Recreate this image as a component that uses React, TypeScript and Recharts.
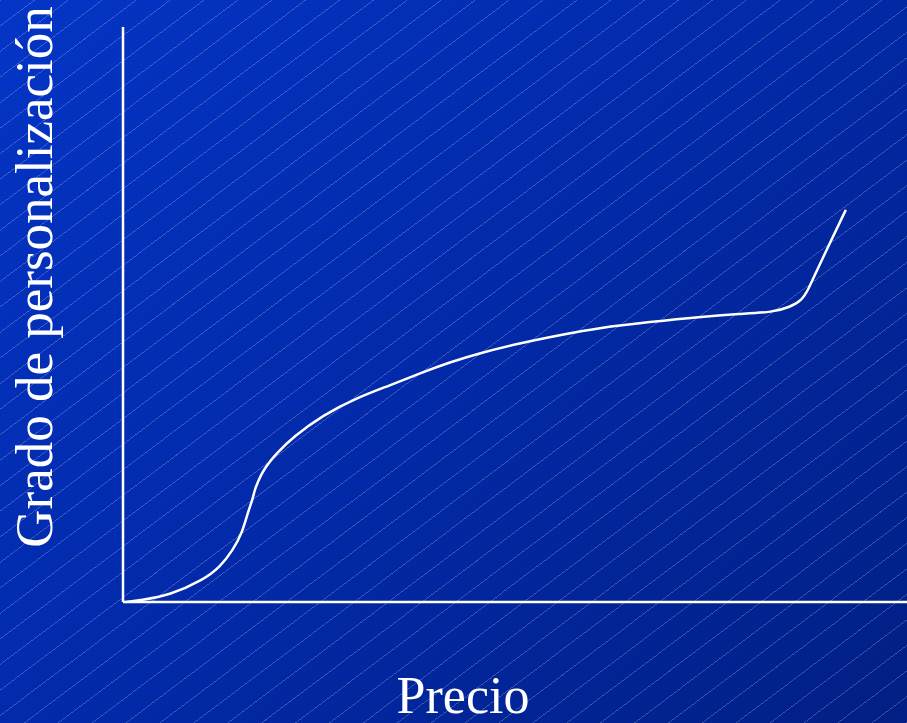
import { LineChart, Line, XAxis, YAxis, ReferenceLine } from 'recharts';

// curve: x = price, y = degree of personalization (0-100 scale)
const precio = [0.3, 2.2, 6.0, 10.2, 12.4, 14.0, 15.2, 15.9, 16.5, 16.8, 17.2, 17.9, 19.6, 21.7, 25.5, 29.8, 34.1, 37.9, 41.7, 45.5, 50.6, 55.7, 60.8, 67.2, 73.6, 78.7, 82.9, 85.1, 86.6, 87.4, 88.5, 92.2];
const grado = [0, 0.3, 1.2, 3.8, 6.1, 9.0, 12.0, 15.5, 17.7, 19.5, 20.9, 23.0, 25.9, 28.7, 32.5, 35.5, 37.7, 39.8, 41.7, 43.3, 45.0, 46.4, 47.7, 48.7, 49.6, 50.1, 50.4, 51.3, 52.5, 54.3, 57.7, 68.2];

const xLabel = 'Precio';
const yLabel = 'Grado de personalización';

const data = precio.map((x, i) => ({ x, y: grado[i] }));

const serif = '"Liberation Serif", "Times New Roman", serif';

export default function App() {
    return (
        <div
            style={{
                position: 'absolute',
                left: 0,
                top: 0,
                width: 907,
                height: 723,
                overflow: 'hidden',
                background:
                    'repeating-linear-gradient(143deg, rgba(255,255,255,0.22) 0px, rgba(255,255,255,0.22) 0.8px, transparent 0.8px, transparent 20.4px), linear-gradient(135deg, #0435C6 0%, #0229A8 50%, #011F84 100%)',
                fontFamily: serif,
            }}
        >
            <LineChart width={907} height={723} data={data} margin={{ top: 27, right: 0, bottom: 121, left: 123 }}>
                <XAxis dataKey="x" type="number" domain={[0, 100]} hide />
                <YAxis type="number" domain={[0, 100]} hide />
                <ReferenceLine y={0} stroke="#FFFFFF" strokeWidth={2.5} ifOverflow="visible" />
                <ReferenceLine x={0} stroke="#FFFFFF" strokeWidth={2.5} ifOverflow="visible" />
                <Line
                    dataKey="y"
                    type="basis"
                    stroke="#FFFFFF"
                    strokeWidth={2.5}
                    dot={false}
                    isAnimationActive={false}
                />
            </LineChart>
            <svg width={907} height={723} style={{ position: 'absolute', left: 0, top: 0, pointerEvents: 'none' }}>
                <text x={463} y={713} textAnchor="middle" fill="#FFFFFF" fontSize={52} fontFamily={serif}>
                    {xLabel}
                </text>
                <text x={52} y={277} textAnchor="middle" fill="#FFFFFF" fontSize={53} fontFamily={serif}
                    transform="rotate(-90 52 277)">
                    {yLabel}
                </text>
            </svg>
        </div>
    );
}
